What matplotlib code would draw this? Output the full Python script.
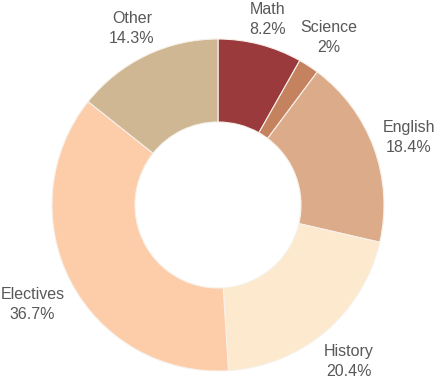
import matplotlib
matplotlib.use("Agg")
import matplotlib.pyplot as plt
import numpy as np

categories = ["Math", "Science", "English", "History", "Electives", "Other"]
values = [8.2, 2.0, 18.4, 20.4, 36.7, 14.3]
pct_labels = ["8.2%", "2%", "18.4%", "20.4%", "36.7%", "14.3%"]
colors = ["#9a3a3c", "#c4825f", "#dcac8a", "#fde9cd", "#fdcca8", "#cfb794"]

plt.rcParams['font.family'] = ['Liberation Sans', 'DejaVu Sans']

fig = plt.figure(figsize=(4.34, 3.81), dpi=100)
W, H = 434, 381
cx, cy, r = 218, 381 - 205, 166
ax = fig.add_axes([(cx - r) / W, (cy - r) / H, 2 * r / W, 2 * r / H])
wedges, _ = ax.pie(values, colors=colors, startangle=90, counterclock=False, radius=1,
                   wedgeprops=dict(width=0.5, edgecolor="#f7f1ea", linewidth=0.8))
ax.set_xlim(-1, 1)
ax.set_ylim(-1, 1)
ax.set_aspect("equal")
ax.axis("off")

fig.canvas.draw()
renderer = fig.canvas.get_renderer()
R0 = 1.042
for w, cat, pct in zip(wedges, categories, pct_labels):
    ang = np.deg2rad((w.theta1 + w.theta2) / 2)
    dx, dy = np.cos(ang), np.sin(ang)
    t = ax.text(0, 0, f"{cat}\n{pct}", ha="center", va="center", fontsize=11.5,
                color="#585858", linespacing=1.38)
    bb = t.get_window_extent(renderer)
    hw = bb.width / 2 / r
    hh = bb.height / 2 / r
    d = R0 + abs(dx) * hw + abs(dy) * hh
    t.set_position((d * dx, d * dy - 2.5 / r))

fig.savefig("out.png", dpi=100)
